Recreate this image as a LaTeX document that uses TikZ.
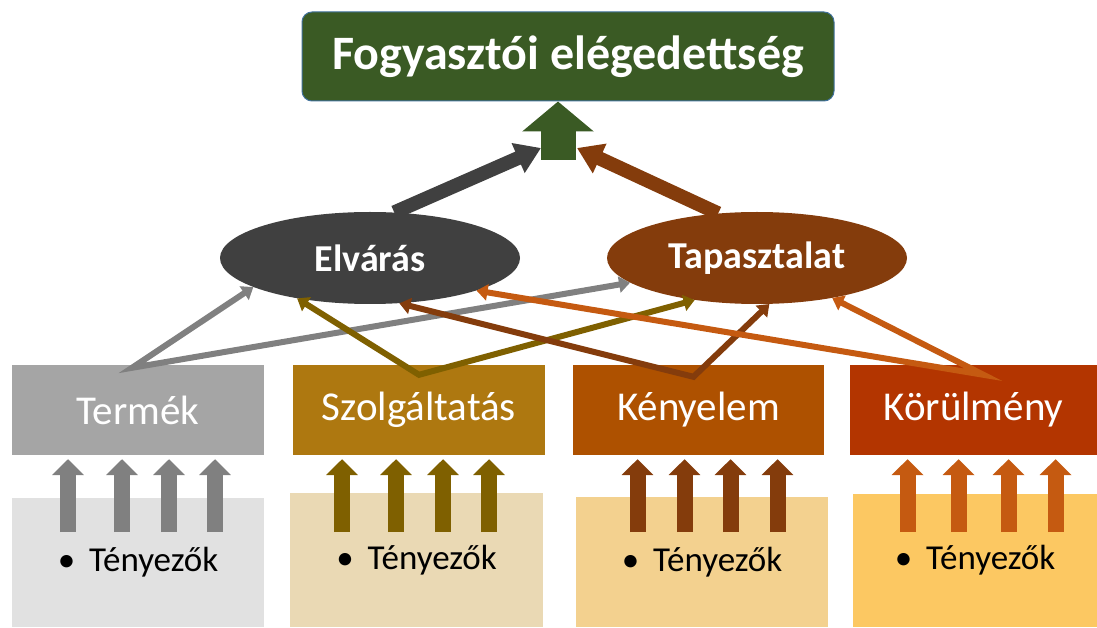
\documentclass[tikz,border=0pt]{standalone}
\usepackage{fontspec}
\setmainfont{Carlito}
\usetikzlibrary{arrows.meta,shapes.geometric}

\definecolor{zold}{HTML}{3A5A24}
\definecolor{sotet}{HTML}{404040}
\definecolor{barna}{HTML}{843C0C}
\definecolor{szurke}{HTML}{808080}
\definecolor{olajzold}{HTML}{7F6000}
\definecolor{narancs}{HTML}{C55A11}
\tikzset{hegy/.tip={Triangle[width=16pt,length=11pt]}}
\newcommand{\teny}{\textbullet\hspace{14pt}Tényezők}

\begin{document}
\begin{tikzpicture}[x=1pt,y=1pt,
    doboz/.style={rectangle,minimum height=90pt,text=white,font=\fontsize{41}{48}\selectfont},
    also/.style={rectangle,font=\fontsize{35}{40}\selectfont},
    tojas/.style={ellipse,minimum width=300pt,minimum height=92pt,text=white,font=\bfseries\fontsize{38}{44}\selectfont},
    ketvek/.style={line width=6pt,hegy-hegy,line join=miter},
    fel/.style={line width=16pt,-{Triangle[width=31pt,length=16pt]}},
    nagy/.style={line width=14pt,-{Triangle[width=31pt,length=25pt]}}]
    \useasboundingbox (0,0) rectangle (1097,627);

    \node[rectangle,rounded corners=10pt,fill=zold,draw={rgb,255:red,65;green,113;blue,156},line width=1pt,
        minimum width=532pt,minimum height=89pt,text=white,font=\bfseries\fontsize{48}{56}\selectfont]
        (cim) at (568,570.5) {Fogyasztói elégedettség};

    \node[tojas,fill=sotet](elv) at (370,369) {Elvárás};
    \node[tojas,fill=barna](tap) at (757,369) {Tapasztalat};

    % felso dobozok
    \node[doboz,fill={rgb,255:red,165;green,165;blue,165},minimum width=252pt](termek) at (138,217) {Termék};
    \node[doboz,fill={rgb,255:red,174;green,120;blue,16},minimum width=252pt](szolg) at (419,217) {Szolgáltatás};
    \node[doboz,fill={rgb,255:red,174;green,81;blue,0},minimum width=251pt](kenyelem) at (698.5,217) {Kényelem};
    \node[doboz,fill={rgb,255:red,179;green,53;blue,0},minimum width=247pt](korulmeny) at (973.5,217) {Körülmény};

    % also dobozok
    \node[also,fill={rgb,255:red,225;green,225;blue,225},minimum width=252pt,minimum height=129pt](termekA) at (138,64.5) {\teny};
    \node[also,fill={rgb,255:red,234;green,217;blue,180},minimum width=253pt,minimum height=134pt](szolgA) at (416.5,67) {\teny};
    \node[also,fill={rgb,255:red,243;green,209;blue,143},minimum width=252pt,minimum height=130pt](kenyelemA) at (702,65) {\teny};
    \node[also,fill={rgb,255:red,252;green,200;blue,98},minimum width=244pt,minimum height=133pt](korulmenyA) at (975,66.5) {\teny};

    % kis nyilak
    \foreach \n/\c/\a/\b/\e/\f in {termek/szurke/-70/-16/31/77, szolg/olajzold/-77/-23/24/70,
        kenyelem/barna/-61/-14/32/79, korulmeny/narancs/-66/-15/35/82}
        \foreach \d in {\a,\b,\e,\f}
            \draw[fel,\c] ([xshift=\d,yshift=-77]\n.south) -- ([xshift=\d,yshift=-4]\n.south);

    % keresztbe futo nyilak
    \draw[ketvek,szurke] (elv.194) -- ([xshift=-6,yshift=-3]termek.north) -- (tap.191);
    \draw[ketvek,olajzold] (elv.209) -- ([yshift=-10]szolg.north) -- (tap.214);
    \draw[ketvek,barna] (elv.303) -- ([xshift=-5,yshift=-12]kenyelem.north) -- (tap.285);
    \draw[ketvek,narancs] (elv.343) -- ([xshift=10,yshift=-10]korulmeny.north) -- (tap.332);

    % nagy nyilak
    \coordinate (kozep) at (558,467);
    \coordinate (bal) at (541,479);
    \coordinate (jobb) at (577,479);
    \draw[nagy,sotet] (elv.62) -- (bal);
    \draw[nagy,barna] (tap.131) -- (jobb);
    \draw[line width=35pt,zold,-{Triangle[width=70pt,length=30pt]}] (kozep) -- (kozep |- cim.south);
\end{tikzpicture}
\end{document}
